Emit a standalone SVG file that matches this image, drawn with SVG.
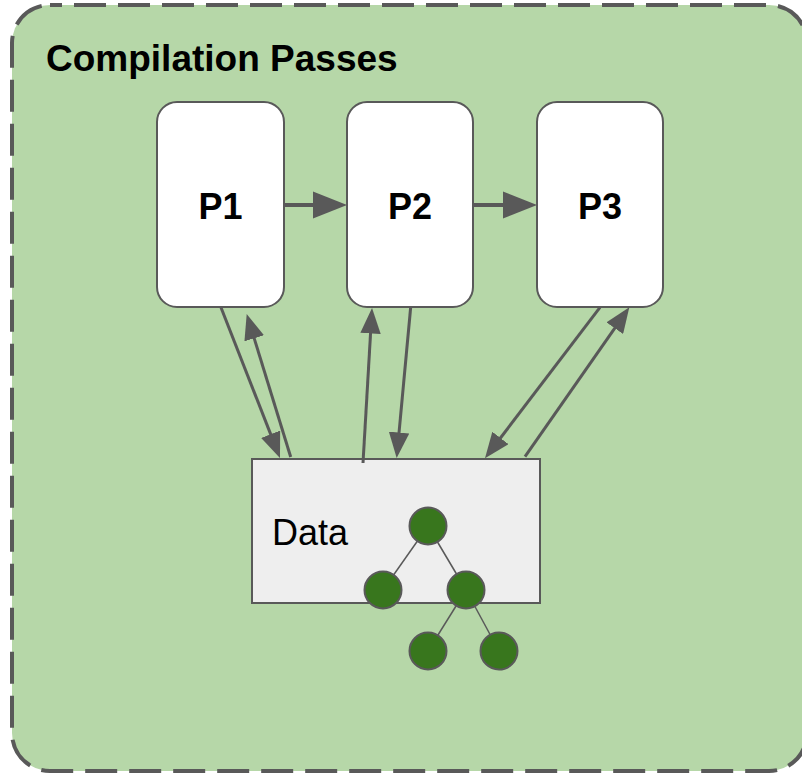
<svg xmlns="http://www.w3.org/2000/svg" width="802" height="773" viewBox="0 0 802 773">
<style>
.pass{fill:#ffffff;stroke:#595959;stroke-width:2}
.lbl{font-family:"Liberation Sans",Arial,sans-serif;font-weight:bold;font-size:36px;fill:#000;text-anchor:middle}
.conn{stroke:#595959;fill:none;marker-end:url(#ah)}
.tn{fill:#38761d;stroke:#595959;stroke-width:2}
.te{stroke:#595959;stroke-width:1.5}
</style>
<defs>
<marker id="ah" viewBox="0 0 10 8" refX="1" refY="4" markerWidth="8.5" markerHeight="6.8" markerUnits="strokeWidth" orient="auto">
<path d="M0,0 L10,4 L0,8 z" fill="#595959"/>
</marker>
</defs>
<g id="container">
<rect x="12" y="5" width="795" height="766" rx="38" ry="38" fill="#b6d7a8" stroke="#595959" stroke-width="4" stroke-dasharray="32 12" stroke-dashoffset="20"/>
<text x="46" y="71" font-family="'Liberation Sans',Arial,sans-serif" font-weight="bold" font-size="37" fill="#000">Compilation Passes</text>
</g>
<g id="P1">
<rect class="pass" x="157" y="102" width="127" height="205" rx="20" ry="20"/>
<text class="lbl" x="220.5" y="219">P1</text>
</g>
<g id="P2">
<rect class="pass" x="347" y="102" width="126" height="205" rx="20" ry="20"/>
<text class="lbl" x="410" y="219">P2</text>
</g>
<g id="P3">
<rect class="pass" x="537" y="102" width="126" height="205" rx="20" ry="20"/>
<text class="lbl" x="600" y="219">P3</text>
</g>
<g id="Data">
<rect x="252" y="459" width="288" height="144" fill="#eeeeee" stroke="#595959" stroke-width="2"/>
<text x="272" y="545" font-family="'Liberation Sans',Arial,sans-serif" font-size="36" fill="#000">Data</text>
<g id="tree">
<line class="te" x1="428" y1="526" x2="383" y2="590"/>
<line class="te" x1="428" y1="526" x2="466" y2="590"/>
<line class="te" x1="466" y1="590" x2="428" y2="651"/>
<line class="te" x1="466" y1="590" x2="499" y2="651"/>
<circle class="tn" cx="428" cy="526" r="18.5"/>
<circle class="tn" cx="383" cy="590" r="18.5"/>
<circle class="tn" cx="466" cy="590" r="18.5"/>
<circle class="tn" cx="428" cy="651" r="18.5"/>
<circle class="tn" cx="499" cy="651" r="18.5"/>
</g>
</g>
<g id="connectors">
<line class="conn" stroke-width="4" x1="284" y1="205" x2="316.4" y2="205"/>
<line class="conn" stroke-width="4" x1="473" y1="205" x2="506.4" y2="205"/>
<line class="conn" stroke-width="3" x1="220.7" y1="306.7" x2="271.6" y2="436.6"/>
<line class="conn" stroke-width="3" x1="290.7" y1="457" x2="253.45" y2="335.9"/>
<line class="conn" stroke-width="3" x1="363" y1="463" x2="370.7" y2="330.9"/>
<line class="conn" stroke-width="3" x1="410.7" y1="307" x2="398.8" y2="435.1"/>
<line class="conn" stroke-width="3" x1="600" y1="307.3" x2="498.9" y2="440"/>
<line class="conn" stroke-width="3" x1="525" y1="456.7" x2="616.2" y2="326.1"/>
</g>
</svg>
